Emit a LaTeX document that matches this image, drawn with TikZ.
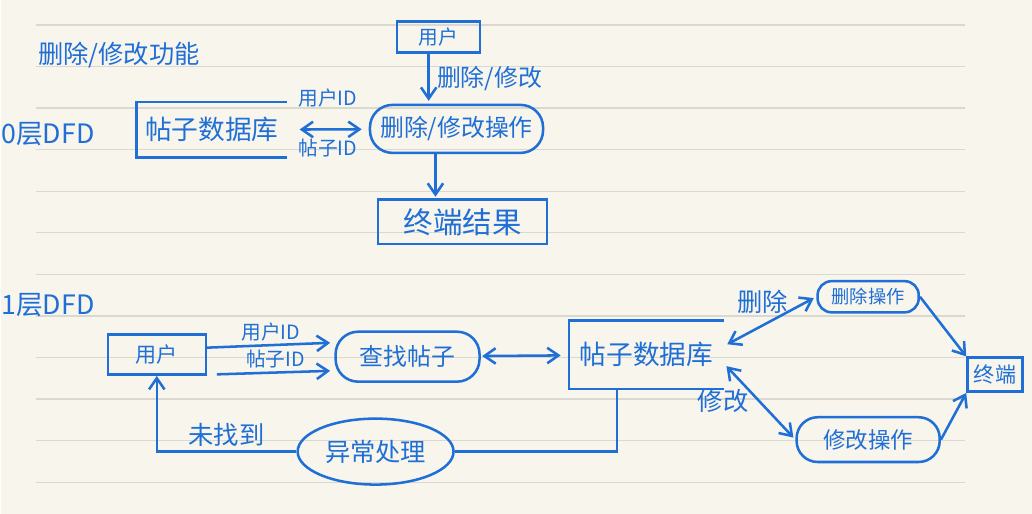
\documentclass[tikz,border=0pt]{standalone}
\usepackage{fontspec}
\setmainfont{Noto Sans CJK SC}
\usetikzlibrary{arrows.meta, shapes.geometric}
\definecolor{ink}{HTML}{1F6FD6}
\definecolor{paper}{HTML}{F7F5EC}
\definecolor{linegray}{HTML}{DAD8D0}

\begin{document}
\begin{tikzpicture}[
    x=0.025cm, y=-0.025cm,
    color=ink, line width=1.8pt,
    every node/.style={inner sep=1pt},
    lbl/.style={font=\fontsize{#1}{#1}\selectfont}, lbl/.default=14,
    box/.style={draw, rectangle},
    proc/.style={draw, rectangle, rounded corners=#1}, proc/.default=16pt,
    oval/.style={draw, ellipse, inner sep=0pt},
    store/.style={rectangle},
    flow/.style={-{Straight Barb[length=8pt, width=11pt]}},
    flows/.style={{Straight Barb[length=8pt, width=11pt]}-{Straight Barb[length=8pt, width=11pt]}},
    ruled/.style={draw=linegray, line width=0.9pt}
  ]

  % paper
  \fill[paper] (0,0) rectangle (1032,514);
  \foreach \k in {0,...,11}
    \draw[ruled] (35,{25+41.6*\k}) -- (965,{25+41.6*\k});

  % 0层DFD
  \node[lbl=18] (title) at (118,55) {删除/修改功能};
  \node[lbl=19] (lvl0) at (47,134) {0层DFD};
  \node[store, lbl=19, minimum width=3.7cm, minimum height=1.33cm] (db0) at (211,130) {帖子数据库};
  \draw (db0.north east) -- (db0.north west) -- (db0.south west) -- (db0.south east);
  \node[proc, lbl=17, minimum width=4.33cm, minimum height=1.2cm] (op0) at (456,129) {删除/修改操作};
  \node[box, lbl=14, minimum width=2.08cm, minimum height=0.78cm] (user0) at (438,37) {用户};
  \node[box, lbl=21, minimum width=4.22cm, minimum height=1.12cm] (end0) at (462,222) {终端结果};

  \draw[flows, shorten <=9pt, shorten >=5pt] (db0) -- (op0)
    node[lbl, midway, above=14pt] {用户ID}
    node[lbl, midway, below=5pt] {帖子ID};
  \draw[flow, shorten >=2pt] ([xshift=-7pt]user0.south) -- ([xshift=-7pt]user0.south |- op0.north)
    node[lbl=17, midway, right=4pt] {删除/修改};
  \draw[flow, shorten >=1pt] ([xshift=-15pt]op0.south) -- ([xshift=-15pt]op0.south |- end0.north);

  % 1层DFD
  \node[lbl=19] (lvl1) at (47,305) {1层DFD};
  \node[box, lbl=15, minimum width=2.45cm, minimum height=1.0cm] (user1) at (156,355) {用户};
  \node[proc, lbl=17, minimum width=3.6cm, minimum height=1.25cm] (find) at (407,357) {查找帖子};
  \node[store, lbl=19, minimum width=3.8cm, minimum height=1.65cm] (db1) at (646,355) {帖子数据库};
  \draw (db1.north east) -- (db1.north west) -- (db1.south west) -- (db1.south east);
  \node[oval, lbl=18, minimum width=3.9cm, minimum height=1.65cm] (fix) at (375,452) {异常处理};
  \node[proc=10pt, lbl=13, minimum width=2.53cm, minimum height=0.78cm] (del) at (868,297) {删除操作};
  \node[proc=15pt, lbl=16, minimum width=3.58cm, minimum height=1.12cm] (mod) at (868,440) {修改操作};
  \node[box, lbl=15, minimum width=1.38cm, minimum height=0.85cm] (end1) at (995,375) {终端};

  \draw[flow, shorten >=3pt] ([yshift=5pt]user1.east) -- ([yshift=10pt]find.west)
    node[lbl, midway, above=1pt] {用户ID};
  \draw[flow, shorten >=3pt] ([xshift=7pt, yshift=-14pt]user1.east) -- ([yshift=-10pt]find.west)
    node[lbl, midway, above=1pt] {帖子ID};
  \draw[flows, shorten <=1pt, shorten >=6pt] (find) -- (db1);
  \draw ([xshift=-21pt]db1.south) |- (fix.east);
  \draw[flow] (fix.west) -| (user1.south)
    node[lbl=18, pos=0.25, above=2pt] {未找到};
  \draw[flows, shorten <=3pt, shorten >=2pt] ([yshift=6pt]db1.east) -- (del.west)
    node[lbl=18, midway, above=4pt, xshift=-5pt] {删除};
  \draw[flows, shorten <=3pt, shorten >=2pt] ([yshift=-6pt]db1.east) -- (mod.west)
    node[lbl=18, midway, left=6pt] {修改};
  \draw[flow] (del.east) -- (end1.north west);
  \draw[flow] (mod.east) -- (end1.south west);

\end{tikzpicture}
\end{document}
